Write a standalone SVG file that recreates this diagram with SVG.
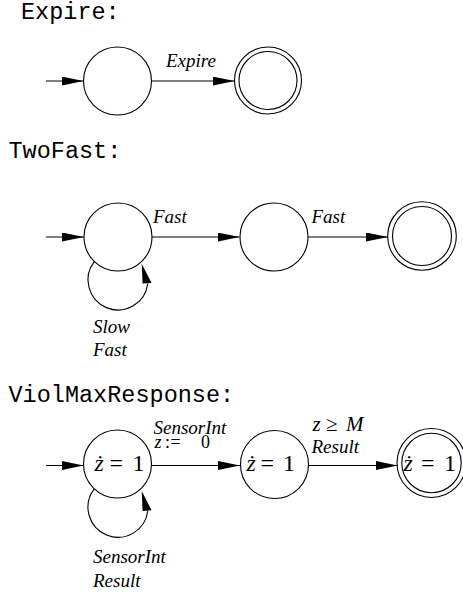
<svg xmlns="http://www.w3.org/2000/svg" width="463" height="592" viewBox="0 0 463 592">
<defs>
<style>
.title{font-family:"Liberation Mono","Courier New",monospace;font-size:23.5px;fill:#000}
.lbl{font-family:"Liberation Serif","Times New Roman",serif;font-style:italic;font-size:19px;fill:#000}
.math{font-family:"Liberation Serif","Times New Roman",serif;font-size:24px;fill:#000}
.mi{font-style:italic}
.node{fill:#fff;stroke:#000;stroke-width:1.1}
.edge{fill:none;stroke:#000;stroke-width:1.1}
.head{fill:#000;stroke:none}
</style>
<marker id="arr" markerUnits="userSpaceOnUse" markerWidth="23" markerHeight="10" refX="22" refY="4.5" orient="auto">
<path d="M0,0 L22,4.5 L0,9 Z" fill="#000"/>
</marker>
</defs>
<rect width="463" height="592" fill="#fff"/>

<text class="title" x="21" y="18.5">Expire:</text>
<text class="title" x="8.5" y="158">TwoFast:</text>
<text class="title" x="8.5" y="402">ViolMaxResponse:</text>

<g id="connectors">
<line class="edge" x1="46" y1="81" x2="83.5" y2="81" marker-end="url(#arr)"/>
<line class="edge" x1="151.5" y1="81" x2="234.5" y2="81" marker-end="url(#arr)"/>
<text class="lbl" x="166" y="67">Expire</text>

<line class="edge" x1="46" y1="237" x2="84" y2="237" marker-end="url(#arr)"/>
<line class="edge" x1="152" y1="237" x2="239.5" y2="237" marker-end="url(#arr)"/>
<line class="edge" x1="308" y1="237" x2="388" y2="237" marker-end="url(#arr)"/>
<text class="lbl" x="153" y="223">Fast</text>
<text class="lbl" x="311.5" y="223">Fast</text>
<path class="edge" d="M94.5,261.3 A30,30 0 1 0 147.8,283.5"/>
<polygon class="head" points="141.7,263.8 142.6,283.6 151.6,283"/>
<text class="lbl" x="93" y="333">Slow</text>
<text class="lbl" x="93" y="356">Fast</text>

<line class="edge" x1="46" y1="465.5" x2="83.5" y2="465.5" marker-end="url(#arr)"/>
<line class="edge" x1="151.5" y1="465.5" x2="240" y2="465.5" marker-end="url(#arr)"/>
<line class="edge" x1="309" y1="465.5" x2="397.5" y2="465.5" marker-end="url(#arr)"/>
<text class="lbl" x="153.5" y="434">SensorInt</text>
<text class="math" y="448" style="font-size:18px"><tspan class="mi" x="154.5">z</tspan><tspan x="165">:</tspan><tspan x="170.5">=</tspan><tspan x="201">0</tspan></text>
<text class="math" y="430.5" style="font-size:21px"><tspan class="mi" x="312.5">z</tspan><tspan x="326">≥</tspan><tspan class="mi" x="346">M</tspan></text>
<text class="lbl" x="311.5" y="453">Result</text>
<path class="edge" d="M94.5,488.6 A30,30 0 1 0 147.8,510.8"/>
<polygon class="head" points="141.7,491.1 142.6,510.9 151.6,510.3"/>
<text class="lbl" x="93" y="563">SensorInt</text>
<text class="lbl" x="93" y="587">Result</text>
</g>

<g id="expire-start"><circle class="node" cx="117.5" cy="81" r="34"/></g>
<g id="expire-accept"><circle class="node" cx="268" cy="80.5" r="33.5"/><circle class="node" cx="268" cy="80.5" r="29"/></g>

<g id="twofast-s0"><circle class="node" cx="118" cy="237" r="34"/></g>
<g id="twofast-s1"><circle class="node" cx="274" cy="237" r="34"/></g>
<g id="twofast-accept"><circle class="node" cx="422" cy="236" r="34.3"/><circle class="node" cx="422" cy="236" r="29.5"/></g>

<g id="viol-s0"><circle class="node" cx="117.5" cy="464" r="34"/>
<text class="math" y="470.5"><tspan class="mi" x="94.5">ż</tspan><tspan x="109.5">=</tspan><tspan x="132.5">1</tspan></text></g>
<g id="viol-s1"><circle class="node" cx="274.5" cy="464.5" r="34"/>
<text class="math" y="470.5"><tspan class="mi" x="246.5">ż</tspan><tspan x="260.5">=</tspan><tspan x="283">1</tspan></text></g>
<g id="viol-accept"><circle class="node" cx="431.5" cy="463" r="34.5"/><circle class="node" cx="431.5" cy="463" r="29.7"/>
<text class="math" y="470.5"><tspan class="mi" x="403.5">ż</tspan><tspan x="421">=</tspan><tspan x="444">1</tspan></text></g>
</svg>
